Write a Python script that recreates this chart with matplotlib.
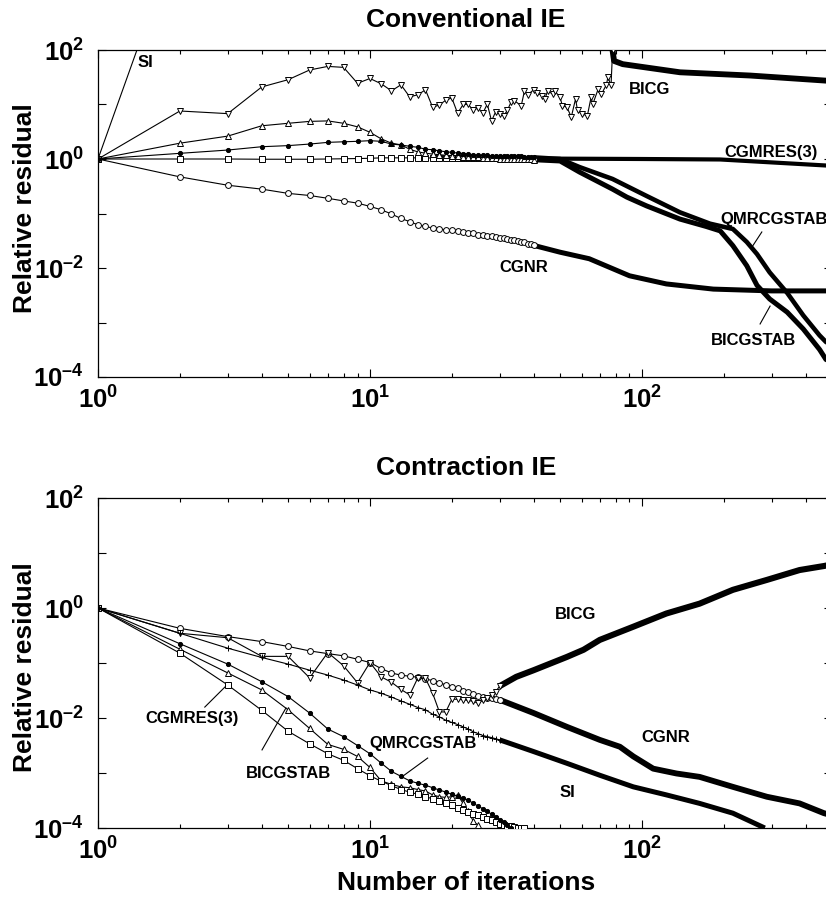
import matplotlib
matplotlib.use('Agg')
import matplotlib.pyplot as plt
from matplotlib.ticker import FixedLocator, FuncFormatter, LogLocator, NullLocator, NullFormatter
import math

plt.rcParams['font.family'] = ['Liberation Sans', 'DejaVu Sans']
plt.rcParams['font.weight'] = 'bold'
plt.rcParams['mathtext.fontset'] = 'custom'
plt.rcParams['mathtext.rm'] = 'Liberation Sans:bold'
plt.rcParams['mathtext.it'] = 'Liberation Sans:bold'
plt.rcParams['mathtext.bf'] = 'Liberation Sans:bold'
plt.rcParams['mathtext.sf'] = 'Liberation Sans:bold'

# ---------------- Conventional IE (top) ----------------
si_top_it = [1, 2]
si_top_val = [1.0, 1.6e4]

bicg_top_it = list(range(1, 32)) + [32, 33, 34, 36, 37, 38, 40, 41, 43, 44, 45, 47, 48, 50,
                                    51, 53, 55, 57, 58, 60, 63, 65, 66, 69, 71, 74, 75, 77, 78]
bicg_top_val = [1.0, 7.6, 6.8, 21, 28.5, 43, 50, 48, 24.5, 30, 24, 17.8, 23, 13.8, 15.1, 18.6,
                8.9, 9.8, 12, 13.2, 6.9, 10, 10, 7.8, 8.7, 6.9, 10.2, 5.0, 7.4, 6.8, 6.2,
                7.8, 11, 11.7, 9.5, 17.8, 15.1, 18.6, 16.6, 14.5, 12.6, 17.8, 15.5, 17.4, 13.5,
                9.5, 8.9, 5.9, 12.6, 7.8, 6.8, 6.2, 13.5, 10.2, 19, 15.5, 23, 31.6, 22.4, 98]
bicg_top_tail_it = [78, 79, 85, 138, 250, 470, 500]
bicg_top_tail_val = [98, 63, 55, 39, 34, 27.5, 27]

cgnr_top_it = list(range(1, 41))
cgnr_top_val = [1.0, 0.47, 0.33, 0.28, 0.234, 0.214, 0.19, 0.17, 0.155, 0.135,
                0.117, 0.098, 0.081, 0.071, 0.062, 0.058, 0.054, 0.0525, 0.050, 0.049,
                0.047, 0.046, 0.044, 0.043, 0.041, 0.040, 0.039, 0.038, 0.037, 0.036,
                0.0355, 0.034, 0.033, 0.032, 0.031, 0.030, 0.0295, 0.028, 0.0275, 0.026]
cgnr_top_tail_it = [40, 50, 64, 90, 123, 183, 300, 500]
cgnr_top_tail_val = [0.026, 0.0195, 0.0148, 0.0072, 0.0051, 0.0041, 0.0038, 0.0038]

gmres_top_it = list(range(1, 41))
gmres_top_val = [1.0, 1.0, 1.0, 0.99, 0.99, 0.99, 1.0, 1.01, 1.02, 1.03,
                 1.05, 1.05, 1.05, 1.05, 1.05, 1.05, 1.04, 1.04, 1.04, 1.04,
                 1.04, 1.04, 1.04, 1.04, 1.04, 1.03, 1.03, 1.03, 1.03, 1.03,
                 1.03, 1.03, 1.03, 1.03, 1.03, 1.03, 1.02, 1.02, 1.02, 1.02]
gmres_top_tail_it = [40, 100, 194, 320, 475, 500]
gmres_top_tail_val = [1.02, 1.0, 0.98, 0.85, 0.76, 0.75]

qmr_top_it = list(range(1, 41))
qmr_top_val = [1.0, 1.27, 1.46, 1.68, 1.76, 1.88, 2.02, 2.07, 2.11, 2.17,
               2.11, 1.88, 1.81, 1.71, 1.64, 1.51, 1.48, 1.41, 1.36, 1.32,
               1.29, 1.26, 1.23, 1.20, 1.17, 1.16, 1.16, 1.15, 1.15, 1.15,
               1.15, 1.15, 1.15, 1.15, 1.13, 1.12, 1.11, 1.10, 1.08, 1.07]
qmr_top_tail_it = [40, 50, 59, 78, 104, 138, 178, 216, 243, 265, 295, 342, 392, 450, 475, 500]
qmr_top_tail_val = [1.07, 1.0, 0.71, 0.43, 0.21, 0.105, 0.065, 0.052, 0.030, 0.018,
                    0.0083, 0.0035, 0.00135, 5.8e-4, 4.4e-4, 3.8e-4]

bicgstab_top_it = list(range(1, 41))
bicgstab_top_val = [1.0, 1.95, 2.63, 4.07, 4.52, 4.9, 5.0, 4.52, 3.89, 3.09,
                    2.34, 1.95, 1.82, 1.51, 1.35, 1.28, 1.23, 1.20, 1.17, 1.15,
                    1.13, 1.11, 1.09, 1.08, 1.07, 1.06, 1.05, 1.04, 1.03, 1.02,
                    1.02, 1.01, 1.01, 1.0, 1.0, 0.99, 0.99, 0.98, 0.98, 0.97]
bicgstab_top_tail_it = [40, 50, 59, 78, 88, 104, 138, 172, 194, 216, 243, 265, 295, 342,
                        392, 450, 475, 500]
bicgstab_top_tail_val = [0.97, 0.92, 0.575, 0.28, 0.20, 0.138, 0.079, 0.058, 0.048, 0.0257,
                         0.011, 0.0048, 0.0027, 0.00155, 7.6e-4, 3.2e-4, 2.1e-4, 1.8e-4]

# ---------------- Contraction IE (bottom) ----------------
cgnr_bot_it = list(range(1, 31))
cgnr_bot_val = [1.0, 0.427, 0.302, 0.245, 0.20, 0.166, 0.148, 0.135, 0.117, 0.102,
                0.079, 0.066, 0.060, 0.0575, 0.055, 0.051, 0.048, 0.0437, 0.040, 0.037,
                0.0347, 0.0316, 0.0295, 0.0269, 0.0251, 0.024, 0.0234, 0.0229, 0.0224, 0.0214]
cgnr_bot_tail_it = [30, 40, 53, 70, 83, 93, 110, 134, 163, 216, 288, 380, 467, 500]
cgnr_bot_tail_val = [0.0214, 0.0123, 0.0069, 0.0040, 0.0030, 0.0020, 0.0012, 9.8e-4,
                     8.5e-4, 5.6e-4, 3.7e-4, 2.8e-4, 1.86e-4, 1.7e-4]

bicg_bot_it = list(range(1, 31))
bicg_bot_val = [1.0, 0.347, 0.288, 0.132, 0.132, 0.0537, 0.155, 0.089, 0.0437, 0.102,
                0.056, 0.0447, 0.0331, 0.0263, 0.0537, 0.0525, 0.0282, 0.0129, 0.0129, 0.0219,
                0.0219, 0.0214, 0.0209, 0.020, 0.0186, 0.0209, 0.0234, 0.0263, 0.0302, 0.038]
bicg_bot_tail_it = [30, 34.5, 40, 53, 61, 70, 93, 123, 163, 216, 288, 380, 467, 500]
bicg_bot_tail_val = [0.038, 0.056, 0.074, 0.129, 0.174, 0.263, 0.457, 0.794, 1.2, 2.14,
                     3.24, 4.9, 5.8, 6.2]

si_bot_it = list(range(1, 31))
si_bot_val = [1.0, 0.347, 0.186, 0.126, 0.0955, 0.0741, 0.0603, 0.049, 0.0398, 0.0324,
              0.0282, 0.024, 0.0204, 0.0178, 0.0155, 0.0141, 0.0117, 0.0105, 0.0091, 0.0083,
              0.0076, 0.0069, 0.0063, 0.0056, 0.0052, 0.0048, 0.0046, 0.0044, 0.0042, 0.0040]
si_bot_tail_it = [30, 40, 53, 70, 93, 123, 163, 216, 283]
si_bot_tail_val = [0.0040, 0.00245, 0.0015, 9.1e-4, 5.6e-4, 4.0e-4, 2.8e-4, 1.86e-4, 1.0e-4]

qmr_bot_it = list(range(1, 34))
qmr_bot_val = [1.0, 0.224, 0.0955, 0.0457, 0.0245, 0.0123, 0.0063, 0.00457, 0.00316, 0.00224,
               0.00151, 0.00107, 8.7e-4, 7.2e-4, 6.5e-4, 6.0e-4, 5.4e-4, 4.9e-4, 4.5e-4, 4.1e-4,
               3.8e-4, 3.5e-4, 3.2e-4, 2.8e-4, 2.5e-4, 2.24e-4, 2.0e-4, 1.78e-4, 1.58e-4, 1.41e-4,
               1.26e-4, 1.12e-4, 1.0e-4]

bicgstab_bot_it = list(range(1, 27))
bicgstab_bot_val = [1.0, 0.178, 0.066, 0.0324, 0.0141, 0.00646, 0.00331, 0.00269, 0.0020, 0.00126,
                    7.2e-4, 6.2e-4, 5.6e-4, 5.4e-4, 5.0e-4, 4.7e-4, 4.0e-4, 3.7e-4, 3.6e-4, 3.7e-4,
                    4.0e-4, 2.8e-4, 2.0e-4, 1.32e-4, 1.12e-4, 8.9e-5]

gmres_bot_it = list(range(1, 38))
gmres_bot_val = [1.0, 0.151, 0.0398, 0.0138, 0.00575, 0.00339, 0.00224, 0.0017, 0.0012, 8.9e-4,
                 7.1e-4, 5.9e-4, 5.0e-4, 4.5e-4, 4.1e-4, 3.7e-4, 3.4e-4, 3.1e-4, 2.8e-4, 2.6e-4,
                 2.34e-4, 2.14e-4, 1.95e-4, 1.82e-4, 1.7e-4, 1.58e-4, 1.48e-4, 1.38e-4, 1.29e-4, 1.2e-4,
                 1.15e-4, 1.1e-4, 1.07e-4, 1.05e-4, 1.02e-4, 1.0e-4, 1.0e-4]

y_decades = [1e-4, 1e-3, 1e-2, 1e-1, 1e0, 1e1, 1e2]
x_decades = [1, 10, 100]

W, H = 826, 899
fig = plt.figure(figsize=(W / 100, H / 100), dpi=100)


def px_axes(left, right, top, bottom):
    return fig.add_axes([left / W, 1 - bottom / H, (right - left) / W, (bottom - top) / H])


ax1 = px_axes(98, 832, 50, 377)
ax2 = px_axes(98, 832, 498, 828)


def exp_label(e):
    s = str(abs(e))
    if e < 0:
        s = '\u2013' + s
    return r'$10^{%s}$' % s


def yfmt(v, pos):
    e = int(round(math.log10(v)))
    return exp_label(e) if e % 2 == 0 else ''


def xfmt(v, pos):
    return exp_label(int(round(math.log10(v))))


for ax in (ax1, ax2):
    ax.set_xscale('log')
    ax.set_yscale('log')
    ax.set_xlim(1, 500)
    ax.set_ylim(1e-4, 1e2)
    ax.yaxis.set_major_locator(FixedLocator(y_decades))
    ax.yaxis.set_minor_locator(NullLocator())
    ax.yaxis.set_major_formatter(FuncFormatter(yfmt))
    ax.xaxis.set_major_locator(FixedLocator(x_decades))
    ax.xaxis.set_minor_locator(LogLocator(base=10, subs=range(2, 10), numticks=20))
    ax.xaxis.set_minor_formatter(NullFormatter())
    ax.xaxis.set_major_formatter(FuncFormatter(xfmt))
    ax.tick_params(which='both', direction='in', top=True, right=True, labelsize=18.5, width=0.8)
    ax.tick_params(which='major', length=6)
    ax.tick_params(which='minor', length=3)
    ax.tick_params(axis='x', pad=7)
    ax.tick_params(axis='y', pad=10)
    for s in ax.spines.values():
        s.set_linewidth(0.9)


def series(ax, it, val, marker, ms, mfc='white', tail_it=None, tail_val=None, tail_lw=3.6, z=3):
    if tail_it is not None:
        ax.plot(tail_it, tail_val, color='black', lw=tail_lw, solid_capstyle='butt',
                solid_joinstyle='round', zorder=2)
    ax.plot(it, val, color='black', lw=0.8, marker=marker, ms=ms, mfc=mfc, mec='black',
            mew=0.7, zorder=z)


# top panel
ax1.plot(si_top_it, si_top_val, color='black', lw=0.8, marker='+', ms=5, zorder=3)
series(ax1, cgnr_top_it, cgnr_top_val, 'o', 4.2, tail_it=cgnr_top_tail_it, tail_val=cgnr_top_tail_val)
series(ax1, gmres_top_it, gmres_top_val, 's', 4.2, tail_it=gmres_top_tail_it, tail_val=gmres_top_tail_val, tail_lw=3.0)
series(ax1, bicgstab_top_it, bicgstab_top_val, '^', 5, tail_it=bicgstab_top_tail_it, tail_val=bicgstab_top_tail_val, tail_lw=3.6)
series(ax1, bicg_top_it, bicg_top_val, 'v', 5, tail_it=bicg_top_tail_it, tail_val=bicg_top_tail_val, tail_lw=4.2)
series(ax1, qmr_top_it, qmr_top_val, 'o', 3.0, mfc='black', tail_it=qmr_top_tail_it, tail_val=qmr_top_tail_val, tail_lw=3.3, z=4)

# bottom panel
series(ax2, cgnr_bot_it, cgnr_bot_val, 'o', 4.2, tail_it=cgnr_bot_tail_it, tail_val=cgnr_bot_tail_val, tail_lw=4.2)
series(ax2, bicg_bot_it, bicg_bot_val, 'v', 5, tail_it=bicg_bot_tail_it, tail_val=bicg_bot_tail_val, tail_lw=4.4)
series(ax2, si_bot_it, si_bot_val, '+', 5, tail_it=si_bot_tail_it, tail_val=si_bot_tail_val, tail_lw=3.6)
series(ax2, bicgstab_bot_it, bicgstab_bot_val, '^', 5)
series(ax2, gmres_bot_it, gmres_bot_val, 's', 4.2)
series(ax2, qmr_bot_it, qmr_bot_val, 'o', 3.0, mfc='black', z=4)

lab = dict(fontsize=12, fontweight='bold', color='black', zorder=5)
# top labels
ax1.text(1.40, 60, 'SI', ha='left', va='center', **lab)
ax1.text(107, 19.2, 'BICG', ha='center', va='center', **lab)
ax1.text(298, 1.34, 'CGMRES(3)', ha='center', va='center', **lab)
ax1.text(194, 0.079, 'QMRCGSTAB', ha='left', va='center', **lab)
ax1.text(36.8, 0.0104, 'CGNR', ha='center', va='center', **lab)
ax1.text(258, 4.6e-4, 'BICGSTAB', ha='center', va='center', **lab)
ax1.plot([276, 254], [0.0458, 0.0243], color='black', lw=0.8)
ax1.plot([272, 296], [9.4e-4, 2.0e-3], color='black', lw=0.8)

# bottom labels
ax2.text(2.22, 0.0096, 'CGMRES(3)', ha='center', va='center', **lab)
ax2.plot([2.47, 2.98], [0.0158, 0.0398], color='black', lw=0.8)
ax2.text(5.0, 0.001, 'BICGSTAB', ha='center', va='center', **lab)
ax2.plot([4.01, 4.91], [0.00263, 0.0152], color='black', lw=0.8)
ax2.text(15.7, 0.0035, 'QMRCGSTAB', ha='center', va='center', **lab)
ax2.plot([16.3, 13.1], [0.00187, 8.5e-4], color='black', lw=0.8)
ax2.text(57.2, 0.746, 'BICG', ha='center', va='center', **lab)
ax2.text(122, 0.0045, 'CGNR', ha='center', va='center', **lab)
ax2.text(53, 4.5e-4, 'SI', ha='center', va='center', **lab)

big = dict(fontsize=19, fontweight='bold')
fig.text(466 / W, 1 - 20 / H, 'Conventional IE', ha='center', va='center', **big)
fig.text(466 / W, 1 - 468 / H, 'Contraction IE', ha='center', va='center', **big)
fig.text(466 / W, 1 - 883 / H, 'Number of iterations', ha='center', va='center', **big)
fig.text(25 / W, 1 - 208 / H, 'Relative residual', ha='center', va='center', rotation=90, **big)
fig.text(25 / W, 1 - 667 / H, 'Relative residual', ha='center', va='center', rotation=90, **big)

fig.savefig('out.png', dpi=100)
